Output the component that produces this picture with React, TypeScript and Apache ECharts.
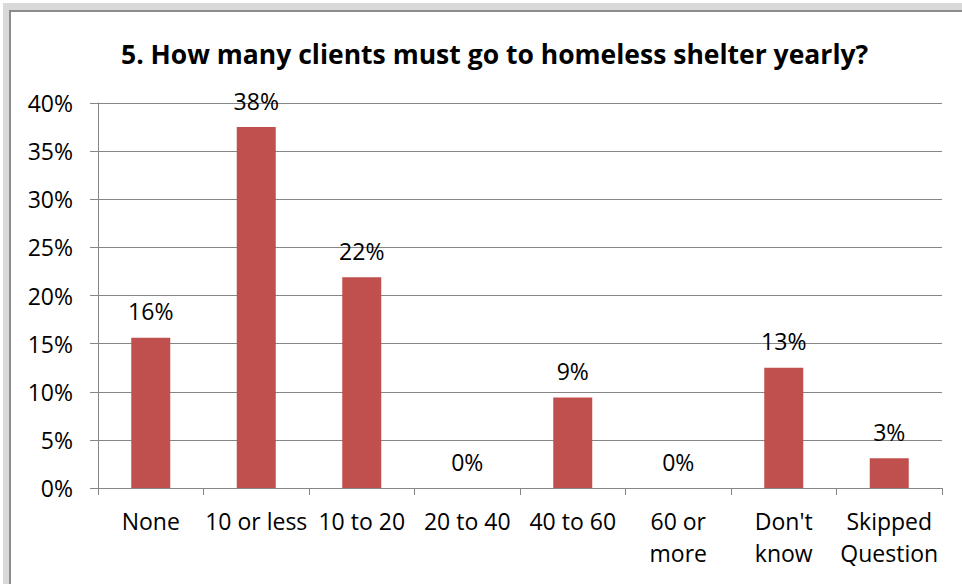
import React, { useEffect, useRef } from "react";
import * as echarts from "echarts";

const title = "5. How many clients must go to homeless shelter yearly?";
const categories = ["None", "10 or less", "10 to 20", "20 to 40", "40 to 60", "60 or\nmore", "Don't\nknow", "Skipped\nQuestion"];
const shares = [0.156, 0.375, 0.219, 0, 0.094, 0, 0.125, 0.031];
const yMin = 0;
const yMax = 0.4;
const yStep = 0.05;

const pct = (v: number) => Math.round(v * 100) + "%";

export default function App() {
  const ref = useRef<HTMLDivElement>(null);
  useEffect(() => {
    if (!ref.current) return;
    const chart = echarts.init(ref.current, undefined, { renderer: "svg" });
    const font = "Open Sans";
    chart.setOption({
      animation: false,
      backgroundColor: "#ffffff",
      title: {
        text: title,
        left: 116,
        top: 35,
        textStyle: { fontFamily: font, fontSize: 26.5, fontWeight: "bold", color: "#000" },
      },
      graphic: [
        { type: "rect", left: 3, top: 3, shape: { width: 959, height: 7 }, style: { fill: "#d9d9d9" } },
        { type: "rect", left: 3, top: 3, shape: { width: 6, height: 581 }, style: { fill: "#d9d9d9" } },
        { type: "rect", left: 9, top: 10, shape: { width: 953, height: 2 }, style: { fill: "#8c8c8c" } },
        { type: "rect", left: 9, top: 10, shape: { width: 2, height: 574 }, style: { fill: "#8c8c8c" } },
      ],
      grid: { left: 98, right: 20, top: 103, bottom: 96 },
      xAxis: {
        type: "category",
        data: categories,
        axisLine: { lineStyle: { color: "#868686", width: 1 } },
        axisTick: { show: true, length: 7, lineStyle: { color: "#868686" } },
        axisLabel: {
          fontFamily: font,
          fontSize: 23,
          color: "#000",
          margin: 17,
          lineHeight: 32,
          interval: 0,
        },
      },
      yAxis: {
        type: "value",
        min: yMin,
        max: yMax,
        interval: yStep,
        axisLine: { show: true, lineStyle: { color: "#868686" } },
        axisTick: { show: true, length: 8, lineStyle: { color: "#868686" } },
        splitLine: { lineStyle: { color: "#868686", width: 1 } },
        axisLabel: {
          fontFamily: font,
          fontSize: 23,
          color: "#000",
          margin: 25,
          formatter: (v: number) => pct(v),
        },
      },
      series: [
        {
          type: "bar",
          data: shares,
          barWidth: 39,
          itemStyle: { color: "#c0504d" },
          label: {
            show: true,
            position: "top",
            distance: 15,
            fontFamily: font,
            fontSize: 23,
            color: "#000",
            formatter: (p: any) => pct(p.value),
          },
        },
      ],
    });
    return () => chart.dispose();
  }, []);
  return <div ref={ref} style={{ width: 962, height: 584, position: "absolute", left: 0, top: 0 }} />;
}
